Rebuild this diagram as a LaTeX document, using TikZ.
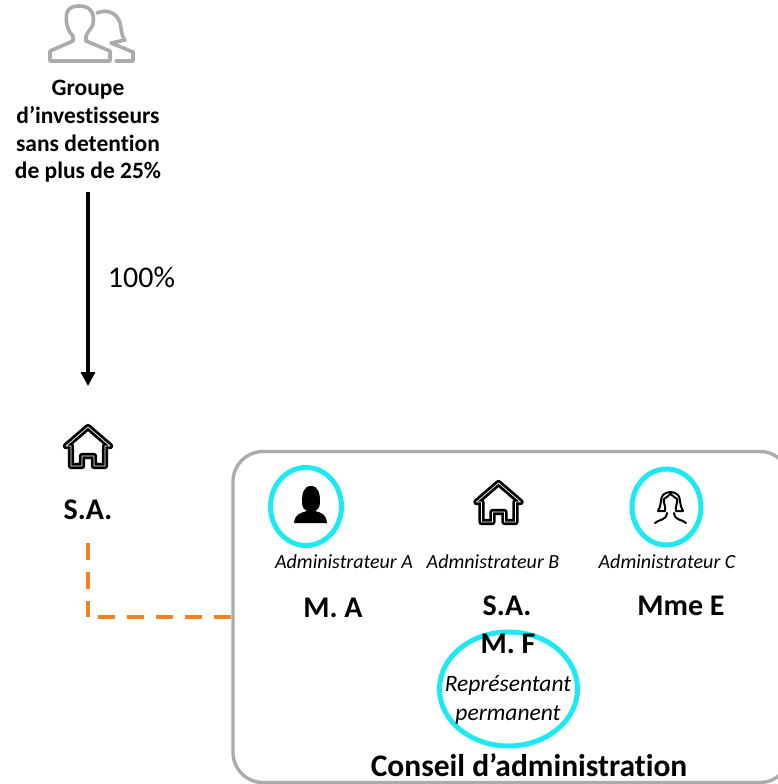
\documentclass[tikz,border=0pt]{standalone}
\usepackage{fontspec}
\setmainfont{Carlito}[Ligatures=NoCommon]
\usetikzlibrary{arrows.meta,shapes.geometric,calc}
\definecolor{cyanring}{HTML}{1DE9F5}
\definecolor{boxgray}{HTML}{ABABAB}
\definecolor{icongray}{HTML}{ABABAB}
\definecolor{dashorange}{HTML}{F58220}
\tikzset{
  lab/.style={inner sep=0pt,align=center,font=\fontsize{30}{34}\selectfont\bfseries},
  smalllab/.style={inner sep=0pt,align=center,font=\fontsize{23.5}{27.7}\selectfont\bfseries},
  role/.style={inner sep=0pt,align=center,font=\fontsize{23.5}{29}\selectfont\itshape},
  adminrole/.style={inner sep=0pt,align=center,font=\fontsize{20}{24}\selectfont\itshape},
  ring/.style={draw=cyanring,line width=5pt,ellipse,inner sep=0pt,minimum width=#1},
  house/.pic={
    \draw[black,line width=2.8pt,line join=round,double=white,double distance=0.7pt]
      (-22,21) -- (0,2) -- (22,21) -- (17,21) -- (17,41) -- (6,41) -- (6,31) -- (-6,31) -- (-6,41) -- (-17,41) -- (-17,21) -- cycle;
  },
}
\begin{document}
\begin{tikzpicture}[x=1pt,y=-1pt]
\useasboundingbox (0,0) rectangle (778,784);
% investor group icon
\begin{scope}[draw=icongray,line width=3.6pt,line join=round,line cap=round]
\draw (50,61) -- (50,51) -- (73,41) -- (73,36) .. controls (68,31) and (68,27) .. (67,25)
  .. controls (64,10) and (70,6) .. (79,6) .. controls (89,6) and (95,11) .. (93,24)
  .. controls (92,28) and (88,31) .. (86,36) -- (86,41) -- (110,51) -- (110,61) -- cycle;
\draw (97,13) .. controls (108,8) and (120,14) .. (121,28) .. controls (122,35) and (123,38) .. (125,40)
  -- (111,43) -- (133,52) -- (133,61) -- (116,61);
\end{scope}
\node[smalllab] (grp) at (88,131.5) {Groupe\\d’investisseurs\\sans detention\\de plus de 25\%};
\pic at (88,425) {house};
\node[lab] (sa1) at (88,510) {S.A.};
\coordinate (arrowend) at (88,386);
\draw[black,line width=3.2pt,-{Triangle[length=14pt,width=14pt]}] (88,192) -- (arrowend);
\node[inner sep=0pt,font=\fontsize{30}{34}\selectfont] (pct) at (141.5,277) {100\%};
% board
\node[draw=boxgray,line width=3.4pt,rounded corners=30pt,inner sep=0pt,minimum width=557pt,minimum height=331pt] (board) at (511.5,617) {};
\coordinate (dashstart) at (88,543);
\coordinate (dashcorner) at (88,617);
\draw[dashorange,line width=3.6pt,dash pattern=on 17pt off 12pt] (dashstart) -- (dashcorner);
\draw[dashorange,line width=3.6pt,dash pattern=on 17pt off 12pt] (98,617) -- (board.west |- dashcorner);
% rings
\node[ring=71pt,minimum height=78pt] (ra) at (306,506.5) {};
\node[ring=69pt,minimum height=76pt] (rc) at (666.5,507) {};
% person
\fill[black] (311,486) .. controls (318,486) and (320,493) .. (320,501) .. controls (320,510) and (316,510) .. (315,511) -- (307,511) .. controls (305,510) and (302,509) .. (302,501) .. controls (302,493) and (304,486) .. (311,486) -- cycle;
\fill[black] (294,523) .. controls (295,514) and (300,513) .. (307,511) -- (315,511) .. controls (322,513) and (326,514) .. (327,523) -- cycle;
% woman
\begin{scope}[line width=2pt,line cap=round,line join=round,black]
\draw (658,511) .. controls (662,505) and (660,498) .. (663,495) .. controls (667,491) and (674,491) .. (678,495) .. controls (681,498) and (679,505) .. (683,511) -- (676,511) .. controls (675,506) and (678,503) .. (677,499) .. controls (675,497) and (672,496) .. (670.5,494) .. controls (669,496) and (666,497) .. (664,499) .. controls (663,503) and (666,506) .. (665,511) -- cycle;
\draw (655,523) .. controls (659,519) and (666,521) .. (667,513) (686,523) .. controls (682,519) and (675,521) .. (674,513);
\end{scope}
\pic at (498.5,481) {house};
% labels
\node[adminrole] (ada) at (344,562) {Administrateur A};
\node[adminrole] (adb) at (493,562) {Admnistrateur B};
\node[adminrole] (adc) at (667,562) {Administrateur C};
\node[lab] (ma) at (333,608) {M. A};
\node[lab] (sa2) at (507,606) {S.A.};
\node[lab] (me) at (681,606) {Mme E};
\node[ring=138pt,minimum height=114pt] (rf) at (508.5,689) {};
\node[lab] (mf) at (508,644) {M. F};
\node[role] (rp) at (508,700) {Représentant\\permanent};
\node[inner sep=0pt,font=\fontsize{31.5}{36}\selectfont\bfseries] (cons) at (529,765) {Conseil d’administration};
\end{tikzpicture}
\end{document}
